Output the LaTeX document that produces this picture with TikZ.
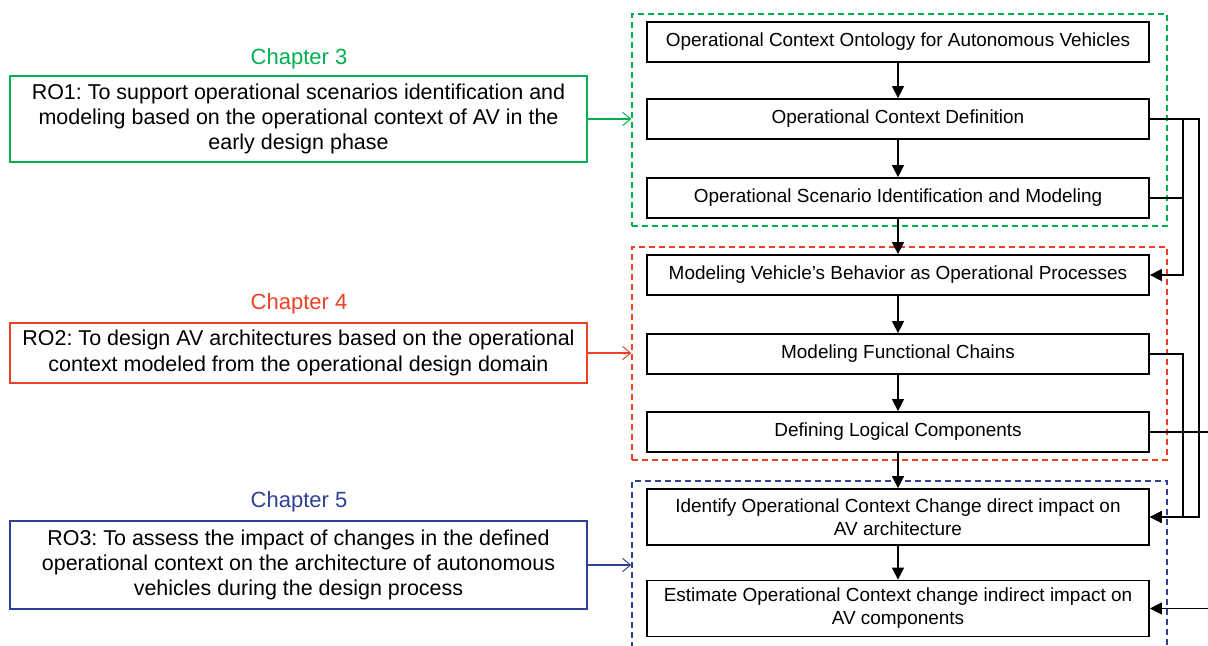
\documentclass[tikz,border=0pt]{standalone}
\usepackage{fontspec}
\setmainfont{Liberation Sans}
\usepackage{tikz}
\usetikzlibrary{calc}
\usetikzlibrary{arrows.meta}
\usetikzlibrary{positioning}
\definecolor{chapgreen}{RGB}{0,176,80}
\definecolor{chapred}{RGB}{238,64,36}
\definecolor{chapblue}{RGB}{47,64,150}
\tikzset{
	stepbox/.style={draw=black,line width=1.3pt,fill=white,minimum width=376.5pt,minimum height=30pt,
		align=center,inner sep=2pt,font=\fontsize{14.2}{17.2}\selectfont},
	robox/.style={draw=#1,line width=1.1pt,minimum width=432.75pt,align=center,inner sep=2pt,
		font=\fontsize{16.1}{18.9}\selectfont},
	chaplabel/.style={text=#1,font=\fontsize{16.5}{19}\selectfont,inner sep=0pt},
	frame/.style={draw=#1,line width=1.1pt,dash pattern=on 4.5pt off 3pt,minimum width=401.25pt},
	flow/.style={line width=1pt,-{Triangle[length=9pt,width=9pt]}},
	link/.style={line width=0.8pt,draw=#1,-{Straight Barb[length=6pt,width=10pt,line width=0.7pt]}},
}

\begin{document}
\frenchspacing
\begin{tikzpicture}[x=0.75pt,y=-0.75pt]
	\useasboundingbox (0,0) rectangle (1208,646);
	% chapter frames
	\node[frame=chapgreen,minimum height=159pt] (fr3) at (899.5,120) {};
	\node[frame=chapred,minimum height=159.75pt] (fr4) at (899.5,353.5) {};
	\node[frame=chapblue,minimum height=134.25pt] (fr5) at (899.5,570.5) {};
	% steps
	\node[stepbox] (oco) at (898,42) {Operational Context Ontology for Autonomous Vehicles};
	\node[stepbox] (ocd) at (898,119) {Operational Context Definition};
	\node[stepbox] (osi) at (898,198) {Operational Scenario Identification and Modeling};
	\node[stepbox] (mvb) at (898,275) {Modeling Vehicle’s Behavior as Operational Processes};
	\node[stepbox] (mfc) at (898,354) {Modeling Functional Chains};
	\node[stepbox] (dlc) at (898,432) {Defining Logical Components};
	\node[stepbox,minimum height=42pt] (idi) at (898,517) {Identify Operational Context Change direct impact on\\AV architecture};
	\node[stepbox,minimum height=42pt] (eii) at (898,608.5) {Estimate Operational Context change indirect impact on\\AV components};
	% research objectives
	\node[chaplabel=chapgreen] (ch3) at (299,59) {Chapter 3};
	\node[chaplabel=chapred] (ch4) at (299,304) {Chapter 4};
	\node[chaplabel=chapblue] (ch5) at (299,502) {Chapter 5};
	\node[robox=chapgreen,minimum height=64.5pt] (ro1) at (298.5,119) {RO1: To support operational scenarios identification and\\modeling based on the operational context of AV in the\\early design phase};
	\node[robox=chapred,minimum height=45pt] (ro2) at (298.5,353) {RO2: To design AV architectures based on the operational\\context modeled from the operational design domain};
	\node[robox=chapblue,minimum height=66pt] (ro3) at (298.5,565) {RO3: To assess the impact of changes in the defined\\operational context on the architecture of autonomous\\vehicles during the design process};
	\draw[link=chapgreen] (ro1.east) -- (ro1.east -| fr3.west);
	\draw[link=chapred] (ro2.east) -- (ro2.east -| fr4.west);
	\draw[link=chapblue] (ro3.east) -- (ro3.east -| fr5.west);
	% main flow
	\draw[flow] (oco) -- (ocd);
	\draw[flow] (ocd) -- (osi);
	\draw[flow] (osi) -- (mvb);
	\draw[flow] (mvb) -- (mfc);
	\draw[flow] (mfc) -- (dlc);
	\draw[flow] (dlc) -- (idi);
	\draw[flow] (idi) -- (eii);
	% feedback on the right
	\coordinate (r1) at (1183,0);
	\coordinate (r2) at (1199,0);
	\coordinate (r3) at (1225,0);
	\draw[flow] (ocd.east) -| (r1 |- mvb) -- (mvb.east);
	\draw[line width=1pt] (osi.east) -- (osi.east -| r1);
	\draw[flow] (ocd.east) -| (r2 |- idi) -- (idi.east);
	\draw[flow] (mfc.east) -| (r1 |- idi) -- (idi.east);
	\draw[flow] (dlc.east) -| (r3 |- eii) -- (eii.east);
\end{tikzpicture}
\end{document}
